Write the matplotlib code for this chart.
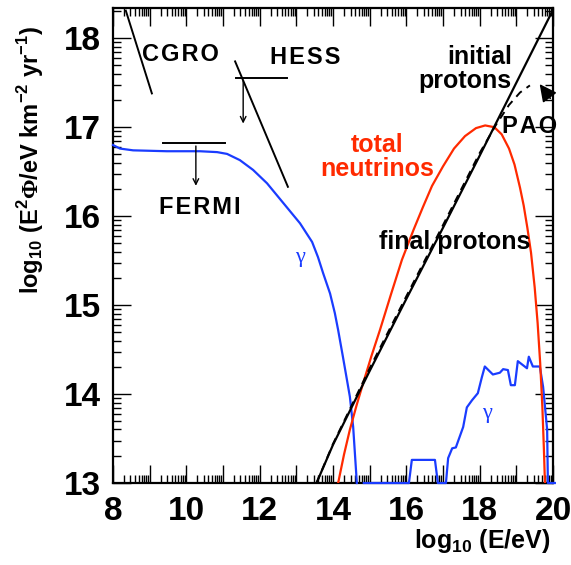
import numpy as np
import matplotlib.pyplot as plt

plt.rcParams['font.family'] = ['Liberation Sans', 'DejaVu Sans']
plt.rcParams['font.weight'] = 'bold'
plt.rcParams['mathtext.fontset'] = 'custom'
plt.rcParams['mathtext.rm'] = 'Liberation Sans:bold'
plt.rcParams['mathtext.sf'] = 'Liberation Serif'

# gamma rays (cascade), low energy part
gamma_lo_x = [8.0, 8.19, 8.55, 9.47, 10.37, 10.84, 11.11, 11.46, 11.82, 12.20,
              12.64, 13.10, 13.43, 13.59, 13.73, 13.92, 14.05, 14.14, 14.27,
              14.38, 14.46, 14.55, 14.65]
gamma_lo_y = [16.80, 16.76, 16.74, 16.73, 16.73, 16.72, 16.70, 16.63, 16.52, 16.37,
              16.15, 15.92, 15.71, 15.54, 15.36, 15.13, 14.91, 14.72, 14.42,
              14.16, 13.97, 13.63, 13.0]
# gamma rays, high energy part
gamma_hi_x = [14.84, 16.07, 16.15, 16.78, 16.86, 17.08, 17.14, 17.25, 17.35, 17.55,
              17.65, 17.79, 17.95, 18.06, 18.14, 18.36, 18.55, 18.64, 18.77, 18.85,
              18.96, 19.04, 19.29, 19.34, 19.45, 19.64, 19.73, 19.84, 19.86, 20.05]
gamma_hi_y = [13.0, 13.0, 13.26, 13.26, 13.0, 13.0, 13.28, 13.39, 13.40, 13.63,
              13.85, 13.93, 14.01, 14.19, 14.31, 14.22, 14.24, 14.28, 14.27, 14.10,
              14.10, 14.37, 14.29, 14.42, 14.31, 14.31, 14.08, 13.60, 13.0, 13.0]

# total neutrinos
nu_x = [14.14, 14.30, 14.46, 14.64, 14.82, 15.05, 15.28, 15.58, 15.88, 16.2,
        16.45, 16.7, 17.0, 17.3, 17.6, 17.9, 18.15, 18.4, 18.6, 18.8, 18.95,
        19.1, 19.2, 19.3, 19.4, 19.5, 19.58, 19.65, 19.71, 19.75, 19.78]
nu_y = [13.0, 13.32, 13.60, 13.87, 14.12, 14.43, 14.72, 15.12, 15.51, 15.85,
        16.10, 16.34, 16.56, 16.76, 16.90, 16.99, 17.02, 17.00, 16.92, 16.76, 16.58,
        16.32, 16.12, 15.87, 15.59, 15.20, 14.80, 14.35, 13.85, 13.40, 13.0]

# initial protons
p_init_x = [13.55, 14.0, 15.0, 16.0, 17.0, 18.0, 19.0, 20.0]
p_init_y = [13.0, 13.43, 14.26, 15.07, 15.87, 16.68, 17.50, 18.32]

# final protons
p_fin_x = [13.55, 14.0, 15.0, 16.0, 17.0, 18.0, 18.45, 18.8, 19.1, 19.37]
p_fin_y = [13.0, 13.44, 14.29, 15.10, 15.90, 16.71, 17.03, 17.25, 17.39, 17.47]

# limits
cgro_x = [8.35, 9.06]
cgro_y = [18.31, 17.38]
hess_x = [11.33, 12.77]
hess_y = [17.74, 16.33]
hess_lim_x = [11.35, 12.75]
hess_lim_y = 17.55
fermi_lim_x = [9.36, 11.05]
fermi_lim_y = 16.82

blue = '#1a3cff'
red = '#ff2a00'

fig = plt.figure(figsize=(5.71, 5.65), dpi=100)
ax = fig.add_axes([0.1979, 0.1451, 0.7706, 0.8407])

ax.plot(gamma_lo_x, gamma_lo_y, color=blue, lw=1.6, zorder=3, clip_on=False)
ax.plot(gamma_hi_x, gamma_hi_y, color=blue, lw=1.6, zorder=3, clip_on=False)
ax.plot(nu_x, nu_y, color=red, lw=1.6, zorder=3)
ax.plot(p_init_x, p_init_y, color='k', lw=1.6, zorder=3)
ax.plot(p_fin_x, p_fin_y, color='k', lw=1.4, ls=(0, (4, 3)), zorder=3)

ax.plot(cgro_x, cgro_y, color='k', lw=1.4)
ax.plot(hess_x, hess_y, color='k', lw=1.4)
ax.plot(hess_lim_x, [hess_lim_y] * 2, color='k', lw=1.4)
ax.plot(fermi_lim_x, [fermi_lim_y] * 2, color='k', lw=1.4)
ax.annotate('', xy=(11.55, 17.01), xytext=(11.55, hess_lim_y),
            arrowprops=dict(arrowstyle='->', lw=1.0, color='k'))
ax.annotate('', xy=(10.26, 16.31), xytext=(10.26, fermi_lim_y),
            arrowprops=dict(arrowstyle='->', lw=1.0, color='k'))
ax.annotate('', xy=(19.59, 17.51), xytext=(19.97, 17.30),
            arrowprops=dict(arrowstyle='-|>', lw=1.2, color='k',
                            mutation_scale=26))

sp = '\u200a'
ax.text(9.83, 17.82, sp.join('CGRO'), fontsize=17, ha='center', va='center')
ax.text(13.24, 17.78, sp.join('HESS'), fontsize=17, ha='center', va='center')
ax.text(10.37, 16.10, sp.join('FERMI'), fontsize=17, ha='center', va='center')
ax.text(19.35, 17.01, sp.join('PAO'), fontsize=17, ha='center', va='center')
ax.text(18.88, 17.66, 'initial\nprotons', fontsize=18, ha='right', va='center',
        ma='right', linespacing=1.0)
ax.text(17.33, 15.71, 'final protons', fontsize=18, ha='center', va='center')
ax.text(15.2, 16.66, 'total\nneutrinos', fontsize=18, ha='center', va='center',
        color=red, linespacing=1.0)
ax.text(13.10, 15.53, '\u03b3', fontsize=16, color=blue, ha='center', va='center',
        family='Liberation Serif', weight='normal')
ax.text(18.2, 13.78, '\u03b3', fontsize=16, color=blue, ha='center', va='center',
        family='Liberation Serif', weight='normal')

ax.set_xlim(8, 20)
ax.set_ylim(13, 18.34)
ax.set_xticks(range(8, 21))
ax.set_xticklabels([str(i) if i % 2 == 0 else '' for i in range(8, 21)])
ax.set_yticks(range(13, 19))
ax.set_xticks([i + np.log10(k) for i in range(8, 20) for k in range(2, 10)], minor=True)
ax.set_yticks([i + np.log10(k) for i in range(13, 18) for k in range(2, 10)]
              + [18 + np.log10(2)], minor=True)
ax.tick_params(which='both', direction='in', top=True, right=True, width=1.0,
               labelsize=24, pad=9)
ax.tick_params(which='major', length=13)
ax.tick_params(which='minor', length=6)
for s in ax.spines.values():
    s.set_linewidth(1.6)

fig.text(0.845, 0.042, 'log$_{10}$ (E/eV)', fontsize=18, ha='center', va='center')
fig.text(0.053, 0.717, 'log$_{10}$ (E$^{2}\\mathsf{\\Phi}$/eV km$^{-2}$ yr$^{-1}$)',
         fontsize=17, ha='center', va='center', rotation=90)

fig.savefig('out.png', dpi=100)
